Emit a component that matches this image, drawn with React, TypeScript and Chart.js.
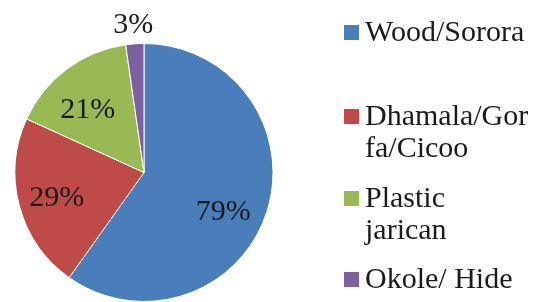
import React, { useEffect, useRef } from "react";
import { Chart, registerables } from "chart.js";

Chart.register(...registerables);

const categories = ["Wood/Sorora", "Dhamala/Gorfa/Cicoo", "Plastic jarican", "Okole/ Hide"];
const legendLines = [["Wood/Sorora"], ["Dhamala/Gor", "fa/Cicoo"], ["Plastic", "jarican"], ["Okole/ Hide"]];
const values = [79, 29, 21, 3];
const valueLabels = ["79%", "29%", "21%", "3%"];
const colors = ["#4a7ebb", "#be4b48", "#98b954", "#7d60a0"];

// label placement styling: radius factor and angular nudge (degrees) relative to slice mid-angle
const labelRadius = [0.68, 0.7, 0.667, 1.164];
const labelNudge = [7.6, 0, -4, 0];

const FONT = "'Liberation Serif', 'DejaVu Serif', serif";
const FS = 30;

const labelPlugin = {
  id: "sliceLabels",
  afterDatasetsDraw(chart: any) {
    const ctx = chart.ctx;
    const meta = chart.getDatasetMeta(0);
    ctx.save();
    ctx.font = `${FS}px ${FONT}`;
    ctx.fillStyle = "#1a1a1a";
    ctx.textAlign = "center";
    ctx.textBaseline = "alphabetic";
    meta.data.forEach((arc: any, i: number) => {
      const p = arc.getProps(["x", "y", "startAngle", "endAngle", "outerRadius"], true);
      const mid = (p.startAngle + p.endAngle) / 2 + (labelNudge[i] * Math.PI) / 180;
      const r = p.outerRadius * labelRadius[i];
      ctx.fillText(valueLabels[i], p.x + Math.cos(mid) * r, p.y + Math.sin(mid) * r + FS * 0.34);
    });
    ctx.restore();
  },
};

const legendPlugin = {
  id: "customLegend",
  afterDraw(chart: any) {
    const ctx = chart.ctx;
    ctx.save();
    ctx.font = `${FS}px ${FONT}`;
    ctx.textBaseline = "alphabetic";
    ctx.textAlign = "left";
    const baselines = [41, 125, 207, 288];
    legendLines.forEach((lines, i) => {
      const b = baselines[i];
      ctx.fillStyle = colors[i];
      ctx.fillRect(344, b - 16, 15, 15);
      ctx.fillStyle = "#1a1a1a";
      lines.forEach((t, j) => ctx.fillText(t, 365, b + j * 32));
    });
    ctx.restore();
  },
};

export default function App() {
  const ref = useRef<HTMLCanvasElement>(null);
  useEffect(() => {
    document.body.style.margin = "0";
    let chart: Chart | null = null;
    let cancelled = false;
    const make = () => {
      if (cancelled || !ref.current) return;
      chart = new Chart(ref.current, {
        type: "pie",
        data: {
          labels: categories,
          datasets: [
            {
              data: values,
              backgroundColor: colors,
              borderColor: "#ffffff",
              borderWidth: 1,
            },
          ],
        },
        options: {
          animation: false,
          responsive: false,
          layout: { padding: { left: 14, right: 265, top: 43, bottom: 0 } },
          plugins: { legend: { display: false }, tooltip: { enabled: false } },
        },
        plugins: [labelPlugin, legendPlugin],
      });
    };
    const fonts: any = (document as any).fonts;
    if (fonts && fonts.load) {
      fonts.load(`${FS}px 'Liberation Serif'`).then(make, make);
    } else make();
    return () => {
      cancelled = true;
      if (chart) chart.destroy();
    };
  }, []);
  return (
    <div style={{ width: 539, height: 302, background: "#fff" }}>
      <canvas ref={ref} width={539} height={302} />
    </div>
  );
}
